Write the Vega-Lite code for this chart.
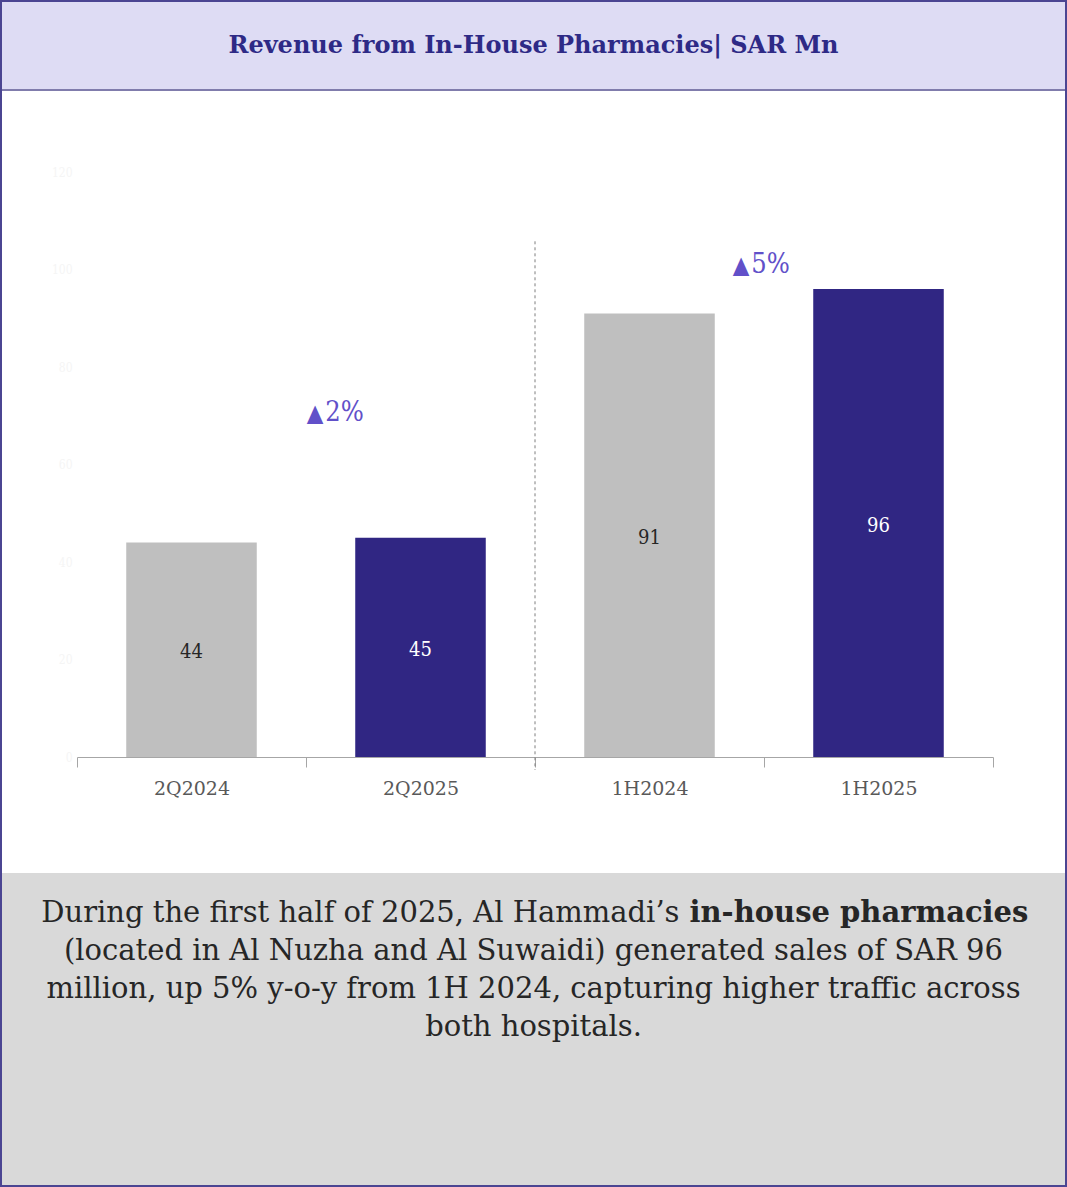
{
  "$schema": "https://vega.github.io/schema/vega-lite/v6.json",
  "width": 1067,
  "height": 1187,
  "autosize": {"type": "none"},
  "padding": 0,
  "background": "#ffffff",
  "config": {
    "view": {"stroke": null},
    "font": "DejaVu Serif",
    "text": {"font": "DejaVu Serif"}
  },
  "datasets": {
    "revenue": [
      {"period": "2Q2024", "revenue": 44, "year": "2024"},
      {"period": "2Q2025", "revenue": 45, "year": "2025"},
      {"period": "1H2024", "revenue": 91, "year": "2024"},
      {"period": "1H2025", "revenue": 96, "year": "2025"}
    ]
  },
  "data": {"name": "revenue"},
  "resolve": {"scale": {"x": "shared", "y": "independent"}, "axis": {"y": "independent"}},
  "layer": [
    {
      "resolve": {"scale": {"x": "shared", "y": "shared"}},
      "layer": [
        {
          "data": {"values": [{}]},
          "mark": {"type": "rect", "fill": "#dedcf4"},
          "encoding": {
            "y": {"datum": 155.3, "type": "quantitative", "scale": {"domain": [-88.2, 155.3], "nice": false, "zero": false}, "axis": {"orient": "left", "offset": -77, "values": [0, 20, 40, 60, 80, 100, 120], "ticks": false, "domain": false, "grid": false, "title": null, "labelColor": "#f5f5f5", "labelFontSize": 12, "labelPadding": 5, "labelFont": "DejaVu Serif Condensed"}},
            "y2": {"datum": 136.84}
          }
        },
        {
          "data": {"values": [{}]},
          "mark": {"type": "rule", "stroke": "#807cac", "strokeWidth": 2},
          "encoding": {"y": {"datum": 136.84, "type": "quantitative"}}
        },
        {
          "data": {"values": [{}]},
          "mark": {"type": "rect", "fill": "#d9d9d9"},
          "encoding": {
            "y": {"datum": -23.79, "type": "quantitative"},
            "y2": {"datum": -88.2}
          }
        },
        {
          "data": {"values": [{}]},
          "mark": {"type": "text", "text": "Revenue from In-House Pharmacies| SAR Mn", "fontSize": 24, "fontWeight": "bold", "color": "#2e2a86", "baseline": "middle", "align": "center"},
          "encoding": {"y": {"datum": 145.86, "type": "quantitative"}}
        },
        {
          "mark": {"type": "bar", "width": {"band": 0.57}},
          "encoding": {
            "x": {"field": "period", "type": "nominal", "sort": null, "scale": {"type": "band", "range": [77, 993], "paddingInner": 0, "paddingOuter": 0},
              "axis": {"orient": "bottom", "offset": -430, "title": null, "tickBand": "extent", "tickSize": 10, "tickColor": "#a6a6a6", "domainColor": "#a6a6a6", "labelFontSize": 19, "labelColor": "#595959", "labelPadding": 21, "labelBaseline": "middle", "labelAngle": 0, "labelFont": "DejaVu Serif", "grid": false}},
            "y": {"field": "revenue", "type": "quantitative"},
            "color": {"field": "year", "type": "nominal", "scale": {"domain": ["2024", "2025"], "range": ["#bfbfbf", "#302683"]}, "legend": null}
          }
        },
        {
          "data": {"values": [{}]},
          "mark": {"type": "rule", "stroke": "#7f7f7f", "strokeWidth": 1, "strokeDash": [3, 3]},
          "encoding": {
            "x": {"datum": "1H2024", "bandPosition": 0},
            "y": {"datum": 105.8, "type": "quantitative"},
            "y2": {"datum": -2.66}
          }
        },
        {
          "data": {"values": [{}]},
          "mark": {"type": "text", "text": "▲", "fontSize": 24, "align": "right", "baseline": "alphabetic", "color": "#6150c9", "dx": -1, "font": "DejaVu Serif Condensed"},
          "encoding": {"x": {"datum": "2Q2025", "bandPosition": 0.08}, "y": {"datum": 68.94, "type": "quantitative"}}
        },
        {
          "data": {"values": [{}]},
          "mark": {"type": "text", "text": "2%", "fontSize": 27, "align": "left", "baseline": "alphabetic", "color": "#6150c9", "dx": 1, "font": "DejaVu Serif Condensed"},
          "encoding": {"x": {"datum": "2Q2025", "bandPosition": 0.08}, "y": {"datum": 68.94, "type": "quantitative"}}
        },
        {
          "data": {"values": [{}]},
          "mark": {"type": "text", "text": "▲", "fontSize": 24, "align": "right", "baseline": "alphabetic", "color": "#6150c9", "dx": -1, "font": "DejaVu Serif Condensed"},
          "encoding": {"x": {"datum": "1H2024", "bandPosition": 0.94}, "y": {"datum": 99.3, "type": "quantitative"}}
        },
        {
          "data": {"values": [{}]},
          "mark": {"type": "text", "text": "5%", "fontSize": 27, "align": "left", "baseline": "alphabetic", "color": "#6150c9", "dx": 1, "font": "DejaVu Serif Condensed"},
          "encoding": {"x": {"datum": "1H2024", "bandPosition": 0.94}, "y": {"datum": 99.3, "type": "quantitative"}}
        },
        {
          "data": {"values": [{}]},
          "mark": {"type": "text", "text": "During the first half of 2025, Al Hammadi’s", "fontSize": 29, "align": "right", "baseline": "alphabetic", "color": "#262626", "dx": 146},
          "encoding": {"y": {"datum": -33.84, "type": "quantitative"}}
        },
        {
          "data": {"values": [{}]},
          "mark": {"type": "text", "text": "in-house pharmacies", "fontSize": 29, "fontWeight": "bold", "align": "left", "baseline": "alphabetic", "color": "#262626", "dx": 156},
          "encoding": {"y": {"datum": -33.84, "type": "quantitative"}}
        },
        {
          "data": {"values": [{}]},
          "mark": {"type": "text", "text": ["(located in Al Nuzha and Al Suwaidi) generated sales of SAR 96", "million, up 5% y-o-y from 1H 2024, capturing higher traffic across", "both hospitals."], "lineHeight": 38, "fontSize": 29, "align": "center", "baseline": "alphabetic", "color": "#262626"},
          "encoding": {"y": {"datum": -41.64, "type": "quantitative"}}
        },
        {
          "data": {"values": [{}]},
          "mark": {"type": "rect", "fill": null, "fillOpacity": 0, "stroke": "#4b4592", "strokeWidth": 4},
          "encoding": {
            "y": {"datum": 155.3, "type": "quantitative"},
            "y2": {"datum": -88.2}
          }
        }
      ]
    },
    {
      "mark": {"type": "text", "fontSize": 20, "baseline": "middle", "align": "center", "dy": 2.5, "font": "DejaVu Serif Condensed"},
      "encoding": {
        "x": {"field": "period", "type": "nominal", "sort": null},
        "y": {"field": "revenue", "type": "quantitative", "scale": {"domain": [-176.4, 310.6], "nice": false, "zero": false}, "axis": null},
        "text": {"field": "revenue", "type": "quantitative"},
        "color": {"condition": {"test": "datum.year === '2025'", "value": "#ffffff"}, "value": "#262626"}
      }
    }
  ]
}
